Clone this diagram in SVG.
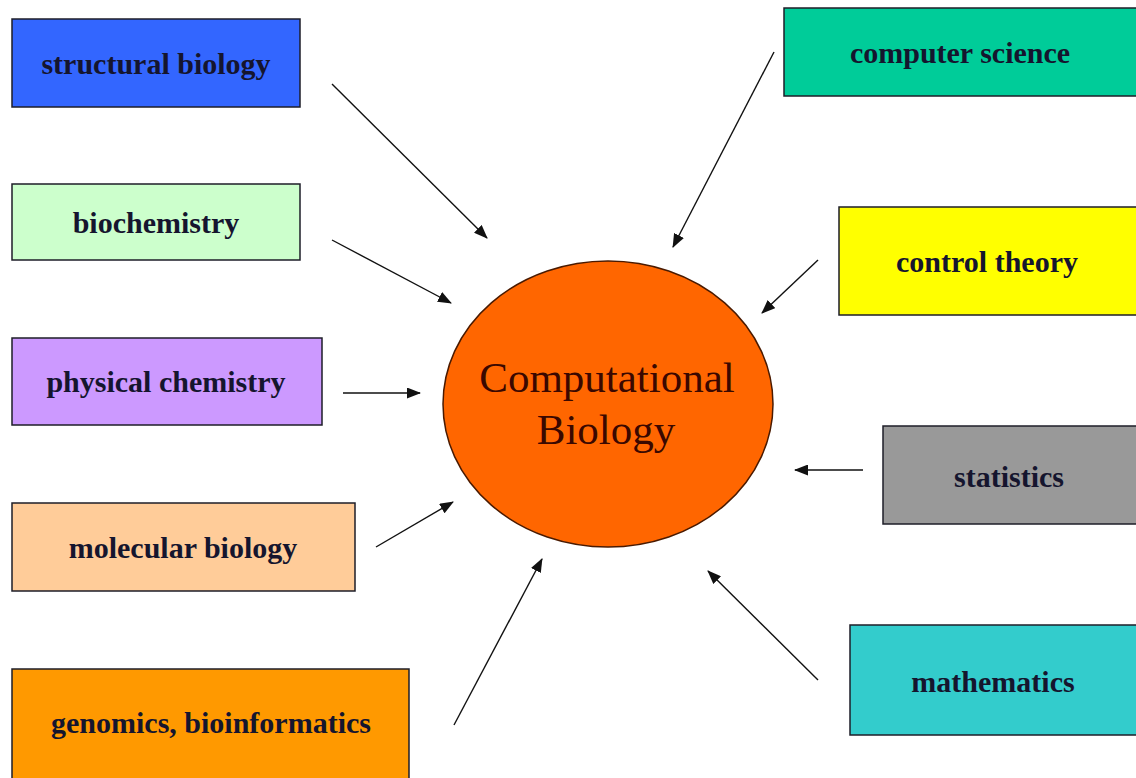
<svg xmlns="http://www.w3.org/2000/svg" width="1136" height="778" viewBox="0 0 1136 778">
<style>
.box{stroke:#1e1e28;stroke-width:1.5}
.lbl{font-family:"Liberation Serif","Times New Roman",serif;font-weight:bold;font-size:30px;fill:#15152e;text-anchor:middle}
.core{font-family:"Liberation Serif","Times New Roman",serif;font-size:43px;fill:#3a0800;text-anchor:middle}
.con line{stroke:#111;stroke-width:1.4;marker-end:url(#ah)}
</style>
<defs>
<marker id="ah" viewBox="0 0 14 11" refX="13" refY="5.5" markerWidth="14" markerHeight="11" markerUnits="userSpaceOnUse" orient="auto">
<path d="M0,0 L14,5.5 L0,11 Z" fill="#111"/>
</marker>
</defs>
<rect width="1136" height="778" fill="#ffffff"/>
<g id="structural-biology"><rect class="box" x="12" y="19" width="288" height="88" fill="#3366ff"/><text class="lbl" x="156" y="74">structural biology</text></g>
<g id="biochemistry"><rect class="box" x="12" y="184" width="288" height="76" fill="#ccffcc"/><text class="lbl" x="156" y="233">biochemistry</text></g>
<g id="physical-chemistry"><rect class="box" x="12" y="338" width="310" height="87" fill="#cc99ff"/><text class="lbl" x="166" y="392">physical chemistry</text></g>
<g id="molecular-biology"><rect class="box" x="12" y="503" width="343" height="88" fill="#ffcc99"/><text class="lbl" x="183" y="558">molecular biology</text></g>
<g id="genomics"><rect class="box" x="12" y="669" width="397" height="112" fill="#ff9900"/><text class="lbl" x="211" y="733">genomics, bioinformatics</text></g>
<g id="computer-science"><rect class="box" x="784" y="8" width="354" height="88" fill="#00cc99"/><text class="lbl" x="960" y="63">computer science</text></g>
<g id="control-theory"><rect class="box" x="839" y="207" width="299" height="108" fill="#ffff00"/><text class="lbl" x="987" y="272">control theory</text></g>
<g id="statistics"><rect class="box" x="883" y="426" width="255" height="98" fill="#999999"/><text class="lbl" x="1009" y="487">statistics</text></g>
<g id="mathematics"><rect class="box" x="850" y="625" width="288" height="110" fill="#33cccc"/><text class="lbl" x="993" y="692">mathematics</text></g>
<g id="computational-biology"><ellipse cx="608" cy="404" rx="165" ry="143" fill="#ff6600" stroke="#4a1a00" stroke-width="1.5"/><text class="core" x="607" y="392">Computational</text><text class="core" x="606" y="444">Biology</text></g>
<g class="con" id="connectors">
<line x1="332" y1="84" x2="487" y2="238"/>
<line x1="332" y1="240" x2="451" y2="303"/>
<line x1="343" y1="393" x2="420" y2="393"/>
<line x1="376" y1="547" x2="453" y2="502"/>
<line x1="454" y1="725" x2="542" y2="559"/>
<line x1="774" y1="52" x2="673" y2="247"/>
<line x1="818" y1="260" x2="762" y2="313"/>
<line x1="863" y1="470" x2="795" y2="470"/>
<line x1="818" y1="680" x2="708" y2="571"/>
</g>
</svg>
